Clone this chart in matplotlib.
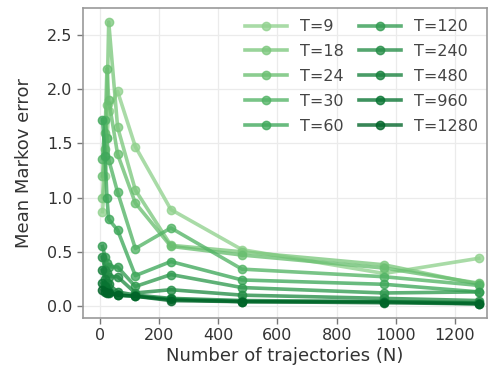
import numpy as np
import matplotlib
matplotlib.use("Agg")
import matplotlib.pyplot as plt

N_values = [9, 18, 24, 30, 60, 120, 240, 480, 960, 1280]
T_labels = ["T=9", "T=18", "T=24", "T=30", "T=60",
            "T=120", "T=240", "T=480", "T=960", "T=1280"]

err_T9    = [0.87, 1.20, 1.55, 1.80, 1.98, 1.47, 0.89, 0.52, 0.30, 0.44]
err_T18   = [1.00, 1.45, 1.85, 2.62, 1.65, 1.07, 0.56, 0.50, 0.38, 0.20]
err_T24   = [1.20, 1.60, 2.19, 1.90, 1.40, 0.95, 0.55, 0.47, 0.35, 0.21]
err_T30   = [1.36, 1.72, 1.55, 1.35, 1.05, 0.53, 0.72, 0.34, 0.27, 0.19]
err_T60   = [1.72, 1.38, 1.00, 0.80, 0.70, 0.28, 0.41, 0.24, 0.20, 0.13]
err_T120  = [0.55, 0.45, 0.40, 0.36, 0.36, 0.18, 0.29, 0.17, 0.12, 0.13]
err_T240  = [0.45, 0.33, 0.30, 0.27, 0.27, 0.12, 0.15, 0.10, 0.07, 0.05]
err_T480  = [0.33, 0.25, 0.21, 0.20, 0.13, 0.10, 0.07, 0.05, 0.04, 0.03]
err_T960  = [0.21, 0.18, 0.15, 0.13, 0.10, 0.09, 0.06, 0.04, 0.04, 0.02]
err_T1280 = [0.15, 0.13, 0.12, 0.12, 0.10, 0.09, 0.05, 0.04, 0.03, 0.02]

series = [err_T9, err_T18, err_T24, err_T30, err_T60,
          err_T120, err_T240, err_T480, err_T960, err_T1280]

plt.rcParams['font.family'] = ['DejaVu Sans']
fig = plt.figure(figsize=(4.88, 3.78), dpi=100)
ax = fig.add_axes([0.170, 0.159, 0.828, 0.820])

colors = plt.cm.Greens(np.linspace(0.42, 0.90, len(series)))
for vals, lab, c in zip(series, T_labels, colors):
    ax.plot(N_values, vals, '-o', color=c, alpha=0.78, lw=2.6, ms=6,
            label=lab)

ax.set_xlim(-57, 1308)
ax.set_ylim(-0.11, 2.75)
ax.set_xticks([0, 200, 400, 600, 800, 1000, 1200])
ax.set_yticks([0.0, 0.5, 1.0, 1.5, 2.0, 2.5])
ax.set_yticklabels(["0.0", "0.5", "1.0", "1.5", "2.0", "2.5"])
ax.grid(True, color='#ebebeb', lw=0.9)
ax.set_axisbelow(True)
for s in ax.spines.values():
    s.set_color('#999999')
    s.set_linewidth(1.2)
ax.tick_params(colors='#333333', labelsize=11.5, length=4, width=1,
               direction='out')
ax.tick_params(axis='both', color='#777777')
ax.set_xlabel("Number of trajectories (N)", fontsize=13, color='#333333',
              labelpad=3)
ax.set_ylabel("Mean Markov error", fontsize=13, color='#333333', labelpad=10)

leg = ax.legend(ncol=2, loc='upper right', frameon=False, fontsize=11.5,
                handlelength=2.6, columnspacing=1.0, labelspacing=0.62,
                borderaxespad=0.3, bbox_to_anchor=(1.005, 1.0))
for t in leg.get_texts():
    t.set_color('#444444')

fig.savefig("out.png", dpi=100)
